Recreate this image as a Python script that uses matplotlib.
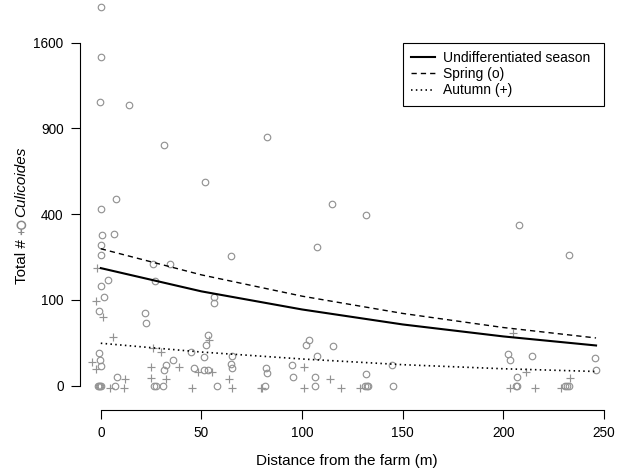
import numpy as np
import matplotlib
matplotlib.use("Agg")
import matplotlib.pyplot as plt
from matplotlib.lines import Line2D
from matplotlib.transforms import IdentityTransform

plt.rcParams['font.family'] = ['Liberation Sans', 'DejaVu Sans']

# ---------------- data ----------------
spring_x = [0.2, 0.2, -0.4, 14.0, 31.2, 82.7, 51.8, 7.7, 0.2, 115.0, 131.9, 207.6,
            107.4, 64.7, 232.8, 0.7, 6.4, 0.0, 0.0, 3.4, 0.2, 1.6, -0.7, 27.1,
            26.1, 34.5, 22.1, 22.5, 56.4, 56.4, 53.4, 52.3, 44.8, 51.1, 65.2, 64.5,
            65.3, 35.9, 32.4, 31.4, 46.2, 51.3, 53.1, -0.7, -0.4, 0.0, 7.9, 103.6,
            101.9, 115.5, 107.3, 82.1, 82.4, 95.0, 95.6, 106.6, 131.6, 144.5, 202.5,
            203.1, 214.1, 245.4, 245.9, 206.9,
            -1.2, -0.9, -0.6, 0.2, 7.0, 26.6, 27.6, 31.1, 57.6, 81.5, 106.2, 131.3,
            132.1, 132.9, 145.2, 206.2, 206.9, 230.8, 231.8, 232.8]
spring_y = [1946, 1469, 1095, 1074, 785, 838, 564, 473, 426, 447, 398, 351,
            262, 229, 232, 309, 311, 270, 234, 153, 135, 107, 76, 149,
            201, 203, 72, 53, 106, 94, 35, 22, 15, 11, 12, 6.4,
            4.1, 9.2, 6.0, 3.2, 4.1, 3.2, 3.2, 14.2, 9.2, 5.1, 1.0, 28.4,
            22.1, 21, 12.2, 4.3, 2.2, 6.0, 1.0, 1.0, 2.0, 6.0, 13.7,
            9.2, 12.2, 10.1, 3.2, 1.1,
            0, 0, 0, 0, 0, 0, 0, 0, 0, 0, 0, 0,
            0, 0, 0, 0, 0, 0, 0, 0]

autumn_x = [-1.7, -2.4, 0.9, 6.3, 25.9, 30.1, 53.6, 39.0, 24.8, 48.1, 55.2, -4.5,
            -2.5, 12.0, 25.1, 32.4, 63.5, 101.1, 114.0, 204.6, 211.1, 233.3,
            4.4, 11.5, 45.2, 65.2, 79.4, 80.1, 100.8, 119.5, 128.6, 203.4, 215.9, 228.6]
autumn_y = [189, 97, 65, 32, 18.9, 15.4, 27.9, 4.6, 4.6, 2.7, 2.7, 7.6,
            3.9, 0.7, 0.8, 0.7, 0.6, 4.6, 0.7, 37.8, 2.4, 0.8,
            -0.05, -0.05, -0.05, -0.05, -0.05, -0.05, -0.05, -0.05, -0.05, -0.05, -0.05, -0.05]

curve_x = [0, 50, 100, 150, 200, 246]
undiff_fit = [188, 121, 79, 51, 33, 22]
spring_fit = [255, 167, 109, 71, 46, 31]
autumn_fit = [24.5, 15.4, 9.7, 6.0, 3.9, 2.75]

yticks = [0, 100, 400, 900, 1600]
xticks = [0, 50, 100, 150, 200, 250]
legend_labels = ["Undifferentiated season", "Spring (o)", "Autumn (+)"]

# ---------------- figure ----------------
W, H = 624, 469
fig = plt.figure(figsize=(W / 100, H / 100), dpi=100)
ax = fig.add_axes([80 / W, (H - 410) / H, (620 - 80) / W, (410 - 2) / H])


def fwd(y):
    y = np.asarray(y, dtype=float)
    return np.sign(y) * np.sqrt(np.abs(y))


def inv(s):
    s = np.asarray(s, dtype=float)
    return np.sign(s) * s ** 2


ax.set_yscale('function', functions=(fwd, inv))
ax.set_xlim(-10.33, 257.9)
ax.set_ylim(-8.03, 2002)

grey = '#939393'
ax.plot(spring_x, spring_y, ls='none', marker='o', ms=4.7, mfc='none',
        mec=grey, mew=0.85, zorder=2)
ax.plot(autumn_x, autumn_y, ls='none', marker='+', ms=6.2, mec=grey,
        mew=0.85, zorder=2)

dash = (0, (3.8, 2.9))
dot = (0, (0.9, 2.0))
ax.plot(curve_x, undiff_fit, color='k', lw=1.5, zorder=3)
ax.plot(curve_x, spring_fit, color='k', lw=1.0, ls=dash, zorder=3)
ax.plot(curve_x, autumn_fit, color='k', lw=1.2, ls=dot, zorder=3)

# axes styling (R-like detached axes)
for s in ('top', 'right'):
    ax.spines[s].set_visible(False)
ax.spines['left'].set_bounds(0, 1600)
ax.spines['bottom'].set_bounds(0, 250)
for s in ('left', 'bottom'):
    ax.spines[s].set_linewidth(0.8)
ax.set_yticks(yticks)
ax.set_yticklabels([str(v) for v in yticks])
ax.set_xticks(xticks)
ax.set_xticklabels([str(v) for v in xticks])
ax.minorticks_off()
ax.tick_params(axis='both', direction='out', length=6.8, width=0.8,
               labelsize=9.8, colors='k')
ax.tick_params(axis='y', pad=5)
ax.tick_params(axis='x', pad=4.5)

handles = [Line2D([], [], color='k', lw=1.5),
           Line2D([], [], color='k', lw=1.0, ls=dash),
           Line2D([], [], color='k', lw=1.2, ls=dot)]
leg = ax.legend(handles, legend_labels, loc='upper left',
                bbox_to_anchor=(150, 0, 100.2, 1600), bbox_transform=ax.transData,
                mode='expand', frameon=True, fancybox=False, edgecolor='k',
                framealpha=1, borderaxespad=0, borderpad=0.6, handlelength=1.73,
                handletextpad=0.58, labelspacing=0.16, fontsize=10)
leg.get_frame().set_linewidth(0.8)

# x label
fig.text(347.3, H - 464.5, "Distance from the farm (m)", transform=IdentityTransform(),
         ha='center', va='baseline', fontsize=11)

# y label assembled from pieces (regular, upright symbol, italic)
t1 = fig.text(0, 0, "Total #", rotation=90, rotation_mode='anchor', ha='left',
              va='baseline', fontsize=11, transform=IdentityTransform())
t3 = fig.text(0, 0, "Culicoides", rotation=90, rotation_mode='anchor', ha='left',
              va='baseline', fontsize=11, style='italic', transform=IdentityTransform())
t2 = fig.text(0, 0, "\u2640", ha='center', va='center', fontsize=12.5,
              family=['DejaVu Sans'], color='#8a8a8a', transform=IdentityTransform())
fig.canvas.draw()
r = fig.canvas.get_renderer()
L1 = t1.get_window_extent(r).height
L3 = t3.get_window_extent(r).height
Ls = 13.5
gap = 0.278 * 11 * 100 / 72
total = L1 + gap + Ls + gap + L3
cy = H - 215.0
y0 = cy - total / 2
xb = 25.5
t1.set_position((xb, y0))
t2.set_position((xb - 4.5, y0 + L1 + gap + Ls / 2))
t3.set_position((xb, y0 + L1 + gap + Ls + gap))

fig.savefig("out.png", dpi=100)
